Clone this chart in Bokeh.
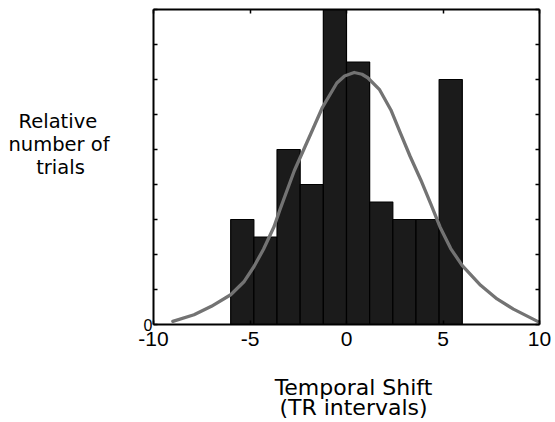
from bokeh.plotting import figure
from bokeh.models import Range1d, LinearAxis, FixedTicker
from bokeh.embed import file_html
from bokeh.resources import INLINE

# Histogram bins (TR intervals) and relative counts
bin_left = [-6.0, -4.8, -3.6, -2.4, -1.2, 0.0, 1.2, 2.4, 3.6, 4.8]
bin_right = [-4.8, -3.6, -2.4, -1.2, 0.0, 1.2, 2.4, 3.6, 4.8, 6.0]
counts = [3.0, 2.5, 5.0, 4.0, 9.5, 7.5, 3.5, 3.0, 3.0, 7.0]

# Fitted curve
curve_x = [-9.0, -7.9, -7.0, -6.0, -5.3, -4.8, -4.3, -3.75, -3.45, -2.7, -1.85,
           -1.25, -0.5, -0.1, 0.4, 0.8, 1.1, 1.7, 2.3, 2.8, 3.3, 3.85, 4.35, 4.85,
           5.4, 6.0, 6.95, 7.8, 8.65, 9.9]
curve_y = [0.09, 0.28, 0.52, 0.85, 1.23, 1.65, 2.15, 2.8, 3.28, 4.4, 5.45,
           6.2, 6.9, 7.1, 7.2, 7.15, 7.05, 6.72, 6.13, 5.46, 4.8, 4.13, 3.47, 2.78,
           2.17, 1.68, 1.12, 0.73, 0.44, 0.09]

x_ticks = [-10, -5, 0, 5, 10]
x_tick_labels = ["-10", "-5", "0", "5", "10"]
y_ticks = [0, 1, 2, 3, 4, 5, 6, 7, 8, 9]
y_tick_labels = ["0", "", "", "", "", "", "", "", "", ""]
NB = "\u00a0"
x_title = NB * 2 + "Temporal Shift\n" + NB * 2 + "(TR intervals)"
y_title = "Relative" + NB * 2 + "\nnumber of\ntrials" + NB * 4 + "\n\n" + NB

p = figure(width=555, height=422, x_range=Range1d(-10, 10), y_range=Range1d(0, 9),
           output_backend="svg", toolbar_location=None,
           x_axis_location=None, y_axis_location=None,
           min_border_left=153, min_border_right=16, min_border_top=9,
           min_border_bottom=97)
p.outline_line_color = None
p.grid.visible = False
p.background_fill_color = "white"
p.border_fill_color = "white"

p.quad(left=bin_left, right=bin_right, bottom=0, top=counts,
       fill_color="#1b1b1b", line_color="black", line_width=1.2)
p.line(curve_x, curve_y, line_color="#737373", line_width=3.3,
       line_cap="round", line_join="round")


def make_axis(ticks, labels=None):
    ax = LinearAxis(ticker=FixedTicker(ticks=ticks), major_tick_in=4, major_tick_out=0,
                    minor_tick_line_color=None, axis_line_width=2,
                    axis_line_color="black", major_tick_line_color="black",
                    major_tick_line_width=1.5)
    if labels is not None:
        ax.major_label_overrides = dict(zip(ticks, labels))
        ax.major_label_text_font = "Liberation Sans"
        ax.major_label_text_color = "black"
    else:
        ax.major_label_text_font_size = "0px"
        ax.major_label_standoff = 0
    return ax


bottom = make_axis(x_ticks, x_tick_labels)
bottom.major_label_text_font_size = "21px"
bottom.major_label_standoff = 7
bottom.axis_label = x_title
bottom.axis_label_text_font = "DejaVu Sans"
bottom.axis_label_text_font_size = "22px"
bottom.axis_label_text_font_style = "normal"
bottom.axis_label_text_color = "black"
bottom.axis_label_text_line_height = 0.8
bottom.axis_label_standoff = 26
p.add_layout(bottom, "below")

left = make_axis(y_ticks, y_tick_labels)
left.major_label_text_font_size = "16px"
left.major_label_standoff = 1
left.axis_label = y_title
left.axis_label_orientation = "horizontal"
left.axis_label_text_font = "DejaVu Sans"
left.axis_label_text_font_size = "19.5px"
left.axis_label_text_font_style = "normal"
left.axis_label_text_color = "black"
left.axis_label_text_line_height = 1.0
left.axis_label_standoff = 31
p.add_layout(left, "left")

p.add_layout(make_axis(x_ticks), "above")
p.add_layout(make_axis(y_ticks), "right")

open("out.html", "w").write(file_html(p, INLINE))
